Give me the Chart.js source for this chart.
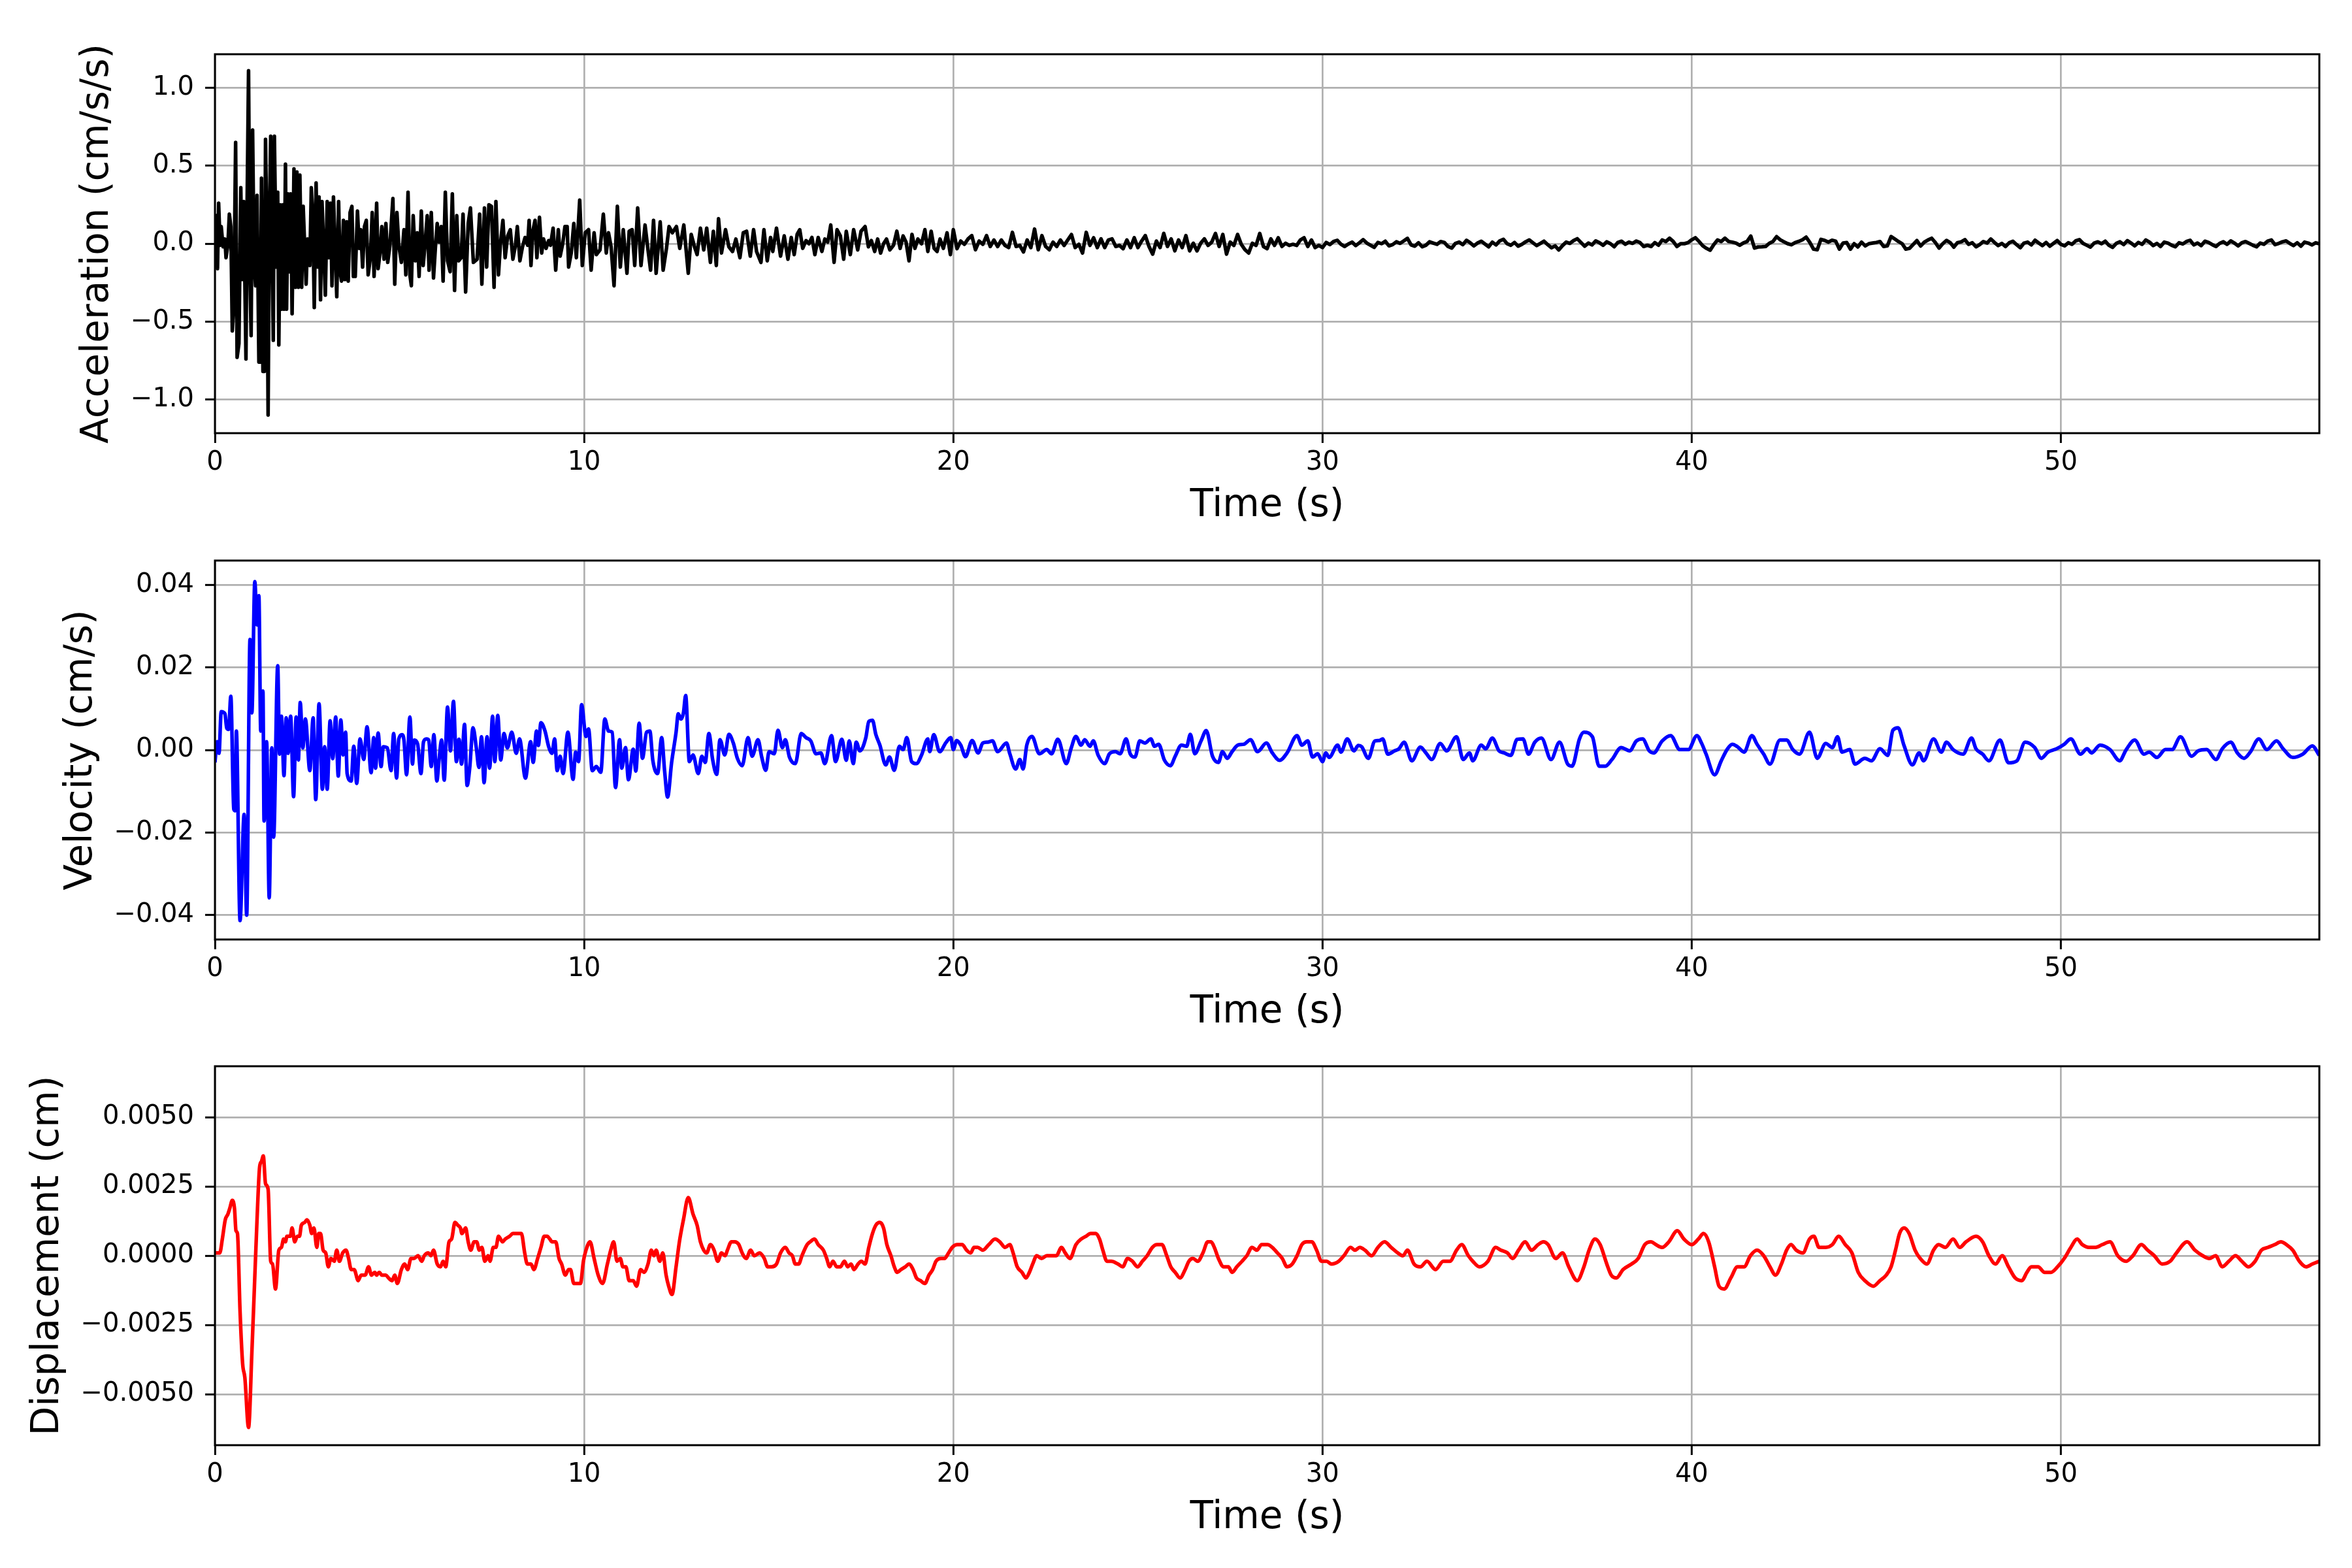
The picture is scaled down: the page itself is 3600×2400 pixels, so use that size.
<!DOCTYPE html>
<html>
<head>
<meta charset="utf-8">
<title>Acceleration, velocity and displacement</title>
<script src="https://cdn.jsdelivr.net/npm/chart.js@4.4.1/dist/chart.umd.min.js"></script>
<style>
  html, body { margin: 0; padding: 0; background: #fff; }
  body { width: 3600px; height: 2400px; position: relative; overflow: hidden; }
  canvas { position: absolute; left: 0; width: 3600px; height: 791px; }
</style>
</head>
<body>
<canvas id="accChart" width="3600" height="791" style="top:42px"></canvas>
<canvas id="velChart" width="3600" height="791" style="top:817px"></canvas>
<canvas id="dispChart" width="3600" height="791" style="top:1591px"></canvas>
<script>
// time axis
const tMax = 57;
const xTicks = [0, 10, 20, 30, 40, 50];
const xTickLabels = ['0', '10', '20', '30', '40', '50'];

// y ticks per panel
const accLimit = 1.216;
const accTicks = [-1, -0.5, 0, 0.5, 1];
const accTickLabels = ['\u22121.0', '\u22120.5', '0.0', '0.5', '1.0'];
const velLimit = 0.0459;
const velTicks = [-0.04, -0.02, 0, 0.02, 0.04];
const velTickLabels = ['\u22120.04', '\u22120.02', '0.00', '0.02', '0.04'];
const dispLimit = 0.00684;
const dispTicks = [-0.005, -0.0025, 0, 0.0025, 0.005];
const dispTickLabels = ['\u22120.0050', '\u22120.0025', '0.0000', '0.0025', '0.0050'];

// acceleration (cm/s/s), 0-20 s
const accTime = [
  0.00, 0.02, 0.04, 0.07, 0.10, 0.14, 0.17, 0.22, 0.27, 0.30,
  0.35, 0.39, 0.43, 0.47, 0.51, 0.56, 0.60, 0.65, 0.70, 0.74,
  0.78, 0.84, 0.87, 0.91, 0.95, 0.98, 1.02, 1.06, 1.10, 1.14,
  1.19, 1.23, 1.26, 1.30, 1.34, 1.37, 1.41, 1.44, 1.47, 1.51,
  1.54, 1.58, 1.61, 1.66, 1.70, 1.73, 1.77, 1.80, 1.84, 1.87,
  1.91, 1.94, 1.98, 2.02, 2.05, 2.09, 2.14, 2.18, 2.22, 2.26,
  2.30, 2.35, 2.39, 2.43, 2.47, 2.51, 2.57, 2.61, 2.65, 2.69,
  2.74, 2.78, 2.82, 2.86, 2.90, 2.94, 2.99, 3.04, 3.08, 3.13,
  3.17, 3.21, 3.26, 3.30, 3.35, 3.39, 3.43, 3.48, 3.52, 3.57,
  3.61, 3.66, 3.71, 3.75, 3.80, 3.86, 3.91, 3.95, 4.00, 4.05,
  4.10, 4.15, 4.21, 4.26, 4.31, 4.38, 4.42, 4.47, 4.52, 4.58,
  4.63, 4.68, 4.74, 4.82, 4.87, 4.93, 4.98, 5.05, 5.12, 5.17,
  5.23, 5.28, 5.32, 5.37, 5.43, 5.48, 5.53, 5.59, 5.64, 5.69,
  5.75, 5.80, 5.86, 5.92, 5.97, 6.02, 6.07, 6.13, 6.18, 6.24,
  6.30, 6.37, 6.43, 6.49, 6.55, 6.60, 6.67, 6.72, 6.79, 6.86,
  6.92, 7.00, 7.10, 7.17, 7.23, 7.30, 7.36, 7.42, 7.49, 7.56,
  7.61, 7.68, 7.73, 7.80, 7.86, 7.93, 8.00, 8.07, 8.14, 8.19,
  8.26, 8.33, 8.40, 8.47, 8.51, 8.56, 8.61, 8.67, 8.72, 8.79,
  8.85, 8.90, 8.97, 9.04, 9.09, 9.16, 9.23, 9.30, 9.35, 9.42,
  9.48, 9.54, 9.58, 9.65, 9.72, 9.79, 9.88, 9.95, 10.03, 10.12,
  10.19, 10.27, 10.33, 10.43, 10.52, 10.60, 10.66, 10.73, 10.81, 10.90,
  10.98, 11.06, 11.16, 11.22, 11.30, 11.37, 11.45, 11.54, 11.65, 11.73,
  11.80, 11.88, 11.95, 12.06, 12.14, 12.23, 12.30, 12.39, 12.50, 12.59,
  12.70, 12.82, 12.90, 12.99, 13.06, 13.15, 13.24, 13.32, 13.42, 13.50,
  13.58, 13.64, 13.72, 13.83, 13.92, 14.02, 14.11, 14.22, 14.31, 14.40,
  14.50, 14.59, 14.67, 14.79, 14.87, 14.96, 15.05, 15.11, 15.21, 15.32,
  15.42, 15.52, 15.61, 15.69, 15.77, 15.84, 15.92, 16.01, 16.09, 16.17,
  16.25, 16.34, 16.44, 16.52, 16.60, 16.68, 16.77, 16.85, 16.94, 17.03,
  17.10, 17.21, 17.30, 17.41, 17.50, 17.61, 17.70, 17.78, 17.87, 17.95,
  18.03, 18.11, 18.19, 18.28, 18.38, 18.47, 18.56, 18.64, 18.72, 18.80,
  18.88, 18.96, 19.04, 19.14, 19.23, 19.31, 19.40, 19.48, 19.56, 19.64,
  19.73, 19.83, 19.92, 20.00
];
const accValue = [
  0.00, 0.01, 0.18, -0.16, 0.26, -0.01, 0.11, -0.02, 0.03, -0.09,
  -0.01, 0.19, 0.11, -0.56, -0.40, 0.65, -0.73, -0.64, 0.36, -0.23,
  0.27, -0.74, 0.23, 1.11, -0.23, -0.59, 0.73, -0.11, -0.27, 0.31,
  -0.76, -0.76, 0.42, -0.82, -0.82, 0.67, -0.01, -1.10, 0.06, 0.69,
  0.11, -0.62, 0.69, -0.15, 0.33, -0.65, 0.25, -0.42, 0.25, -0.42,
  0.51, -0.42, 0.32, -0.18, 0.32, -0.45, 0.48, -0.28, 0.46, -0.28,
  0.44, -0.28, 0.24, -0.01, -0.26, 0.03, -0.14, 0.36, 0.18, -0.41,
  0.39, -0.15, 0.30, -0.36, 0.27, 0.01, -0.33, 0.27, -0.09, 0.26,
  -0.27, 0.30, -0.06, -0.34, 0.27, -0.18, -0.24, 0.15, -0.23, 0.14,
  -0.24, 0.20, 0.24, -0.21, -0.21, 0.21, -0.03, 0.09, -0.15, 0.11,
  0.15, -0.20, -0.09, 0.20, -0.21, 0.26, -0.16, -0.06, 0.11, -0.10,
  0.13, -0.12, -0.01, 0.29, -0.26, 0.20, -0.01, -0.12, 0.09, -0.20,
  0.33, -0.20, -0.27, 0.18, -0.11, 0.07, -0.21, 0.21, -0.14, -0.01,
  0.18, -0.17, 0.20, -0.22, -0.03, 0.13, 0.01, 0.11, -0.24, 0.33,
  -0.11, -0.18, 0.32, -0.30, 0.18, -0.11, -0.09, 0.19, -0.31, 0.13,
  0.23, -0.12, -0.10, 0.19, -0.26, 0.23, -0.15, 0.25, 0.24, -0.28,
  0.27, -0.20, -0.01, 0.15, -0.09, 0.05, 0.09, -0.10, -0.01, 0.11,
  -0.11, -0.02, 0.04, -0.01, 0.15, -0.14, 0.08, 0.15, -0.09, 0.17,
  -0.06, 0.03, -0.03, 0.02, -0.01, 0.10, -0.17, 0.09, -0.08, 0.00,
  0.11, 0.11, -0.15, -0.06, 0.13, -0.09, 0.28, -0.14, 0.07, 0.09,
  -0.17, 0.07, -0.07, -0.04, 0.19, -0.06, 0.07, -0.02, -0.27, 0.24,
  -0.15, 0.09, -0.19, 0.08, 0.09, -0.14, 0.23, -0.14, 0.12, -0.04,
  -0.17, 0.15, -0.19, 0.14, -0.17, -0.03, 0.11, 0.07, 0.11, -0.03,
  0.12, -0.19, 0.06, -0.02, -0.07, 0.10, -0.04, 0.10, -0.12, 0.08,
  -0.14, 0.16, -0.06, 0.09, -0.02, -0.05, 0.03, -0.09, 0.07, 0.08,
  -0.08, 0.09, -0.05, -0.12, 0.09, -0.11, 0.04, -0.05, 0.10, -0.08,
  0.05, -0.10, 0.04, -0.07, 0.06, 0.09, -0.03, 0.02, 0.00, 0.04,
  -0.07, 0.04, -0.05, 0.03, 0.01, 0.12, -0.12, 0.09, 0.05, -0.10,
  0.08, -0.07, 0.09, -0.04, 0.08, 0.11, -0.02, 0.02, -0.05, 0.03,
  -0.06, 0.00, 0.03, -0.04, -0.01, 0.08, -0.03, 0.05, 0.01, -0.11,
  0.06, -0.03, 0.03, 0.00, 0.09, -0.05, 0.08, -0.03, -0.05, 0.03,
  -0.03, 0.07, -0.07, 0.09
];
// acceleration after 20 s, one reading every 0.1 s
const accTailStart = 20.0;
const accTailStep = 0.1;
const accTail = [
  -0.032, 0.017, -0.004, 0.031, 0.052, -0.039, 0.017, -0.004, 0.052, -0.018,
  0.024, -0.018, 0.024, -0.011, -0.025, 0.073, -0.018, -0.011, -0.053, 0.024,
  -0.025, 0.094, -0.039, 0.052, -0.018, -0.039, 0.010, -0.018, 0.024, -0.011,
  0.024, 0.059, -0.025, -0.004, -0.060, 0.073, -0.011, 0.038, -0.025, 0.031,
  -0.025, 0.024, 0.031, -0.018, -0.011, -0.032, 0.024, -0.025, 0.038, -0.025,
  0.017, 0.052, -0.018, -0.067, 0.017, -0.025, 0.066, -0.018, 0.031, -0.046,
  0.024, -0.025, 0.052, -0.046, 0.003, -0.046, 0.003, 0.031, -0.011, 0.010,
  0.066, -0.018, 0.059, -0.067, 0.010, -0.011, 0.059, -0.004, -0.039, -0.060,
  0.003, -0.011, 0.066, -0.018, -0.032, 0.031, -0.011, 0.038, -0.018, 0.003,
  -0.011, -0.004, -0.011, 0.024, 0.038, -0.018, 0.024, -0.025, -0.011, -0.025,
  0.008, -0.006, 0.014, 0.022, -0.004, -0.018, -0.002, 0.010, -0.012, 0.006,
  0.026, 0.004, -0.010, -0.024, 0.008, 0.000, 0.016, -0.014, -0.006, 0.012,
  0.002, 0.018, 0.034, -0.008, -0.016, 0.006, -0.020, -0.010, 0.012, 0.004,
  -0.004, 0.014, 0.008, -0.018, -0.028, 0.002, 0.010, -0.006, 0.022, 0.006,
  -0.014, 0.004, 0.016, -0.002, -0.020, 0.010, -0.008, 0.018, 0.028, 0.000,
  -0.010, 0.008, -0.016, -0.004, 0.012, 0.024, 0.006, -0.012, 0.002, 0.016,
  -0.006, -0.026, -0.014, -0.040, -0.012, 0.010, 0.002, 0.020, 0.032, 0.008,
  -0.016, 0.004, -0.008, 0.018, 0.006, -0.010, 0.012, 0.000, -0.020, 0.008,
  0.016, -0.004, 0.010, 0.002, 0.017, 0.007, -0.018, -0.010, -0.018, 0.007,
  -0.010, 0.024, 0.014, 0.035, 0.014, -0.018, 0.000, 0.000, 0.007, 0.025,
  0.038, 0.014, -0.014, -0.030, -0.042, -0.005, 0.024, 0.014, 0.035, 0.014,
  0.010, 0.004, -0.010, 0.005, 0.014, 0.049, -0.028, -0.021, -0.020, -0.018,
  0.002, 0.014, 0.045, 0.025, 0.012, 0.000, -0.007, 0.007, 0.015, 0.025,
  0.042, 0.008, -0.035, -0.039, 0.028, 0.021, 0.010, 0.022, 0.016, -0.035,
  0.004, 0.007, -0.035, 0.000, -0.021, 0.010, -0.014, 0.000, 0.004, 0.008,
  0.014, -0.018, -0.014, 0.046, 0.030, 0.014, 0.000, -0.035, -0.030, -0.005,
  0.020, -0.015, 0.010, 0.024, 0.035, 0.007, -0.028, 0.000, 0.021, 0.007,
  -0.022, 0.007, 0.012, 0.026, -0.004, 0.006, -0.020, -0.006, 0.014, 0.004,
  0.030, 0.008, -0.012, 0.002, -0.018, 0.006, 0.016, -0.006, -0.026, 0.004,
  0.010, -0.008, 0.022, 0.004, -0.012, 0.008, -0.016, 0.002, 0.020, -0.004,
  -0.014, 0.006, -0.004, 0.018, 0.026, 0.002, -0.010, -0.022, 0.004, 0.012,
  0.000, 0.016, -0.010, -0.024, 0.002, 0.012, -0.006, 0.020, 0.004, -0.014,
  0.008, -0.004, 0.024, 0.010, -0.012, 0.002, -0.018, 0.010, 0.004, -0.010,
  -0.020, 0.006, -0.002, 0.014, 0.022, -0.008, 0.004, -0.012, 0.016, 0.008,
  -0.006, -0.018, 0.002, 0.012, -0.004, 0.018, 0.004, -0.014, 0.006, 0.014,
  0.002, -0.010, -0.020, 0.004, -0.004, 0.016, 0.024, -0.006, 0.002, 0.012,
  0.018, 0.002, -0.012, 0.006, -0.016, 0.010, 0.004, -0.008, 0.006, 0.000
];

// velocity (cm/s), turning points
const velTime = [
  0.00, 0.06, 0.11, 0.17, 0.27, 0.32, 0.37, 0.43, 0.51, 0.55,
  0.58, 0.68, 0.79, 0.86, 0.95, 1.00, 1.08, 1.14, 1.19, 1.24,
  1.30, 1.33, 1.40, 1.47, 1.54, 1.59, 1.70, 1.75, 1.80, 1.87,
  1.93, 1.98, 2.05, 2.13, 2.20, 2.26, 2.31, 2.38, 2.45, 2.57,
  2.66, 2.73, 2.82, 2.91, 2.97, 3.04, 3.12, 3.19, 3.27, 3.34,
  3.41, 3.47, 3.54, 3.58, 3.69, 3.76, 3.84, 3.93, 4.03, 4.12,
  4.23, 4.30, 4.35, 4.42, 4.50, 4.56, 4.67, 4.77, 4.84, 4.92,
  4.98, 5.07, 5.12, 5.19, 5.28, 5.35, 5.40, 5.49, 5.58, 5.65,
  5.73, 5.79, 5.86, 5.93, 6.01, 6.07, 6.14, 6.21, 6.30, 6.38,
  6.46, 6.54, 6.61, 6.68, 6.76, 6.83, 6.90, 6.99, 7.08, 7.15,
  7.22, 7.29, 7.37, 7.44, 7.52, 7.58, 7.66, 7.74, 7.83, 7.92,
  8.04, 8.16, 8.25, 8.41, 8.55, 8.62, 8.71, 8.76, 8.83, 8.94,
  9.04, 9.13, 9.20, 9.27, 9.35, 9.43, 9.56, 9.70, 9.77, 9.85,
  9.93, 10.05, 10.12, 10.22, 10.33, 10.45, 10.56, 10.66, 10.76, 10.85,
  10.96, 11.02, 11.12, 11.20, 11.33, 11.40, 11.49, 11.58, 11.69, 11.78,
  11.86, 11.99, 12.10, 12.18, 12.26, 12.37, 12.49, 12.55, 12.62, 12.69,
  12.75, 12.85, 12.95, 13.09, 13.19, 13.28, 13.38, 13.48, 13.59, 13.68,
  13.81, 13.92, 14.04, 14.15, 14.28, 14.44, 14.55, 14.71, 14.81, 14.92,
  15.01, 15.15, 15.25, 15.37, 15.45, 15.56, 15.72, 15.88, 16.01, 16.14,
  16.28, 16.41, 16.52, 16.70, 16.81, 16.98, 17.10, 17.18, 17.29, 17.37,
  17.47, 17.63, 17.71, 17.81, 17.90, 18.01, 18.17, 18.27, 18.40, 18.54,
  18.64, 18.74, 18.87, 19.00, 19.14, 19.31, 19.36, 19.47, 19.63, 19.80,
  19.93, 20.00, 20.09, 20.20, 20.33, 20.51, 20.67, 20.80, 20.93, 21.06,
  21.20, 21.44, 21.53, 21.69, 21.80, 21.89, 21.99, 22.13, 22.33, 22.53,
  22.66, 22.83, 23.06, 23.19, 23.32, 23.46, 23.56, 23.70, 23.79, 23.92,
  24.10, 24.23, 24.39, 24.52, 24.68, 24.79, 24.92, 25.05, 25.19, 25.35,
  25.45, 25.56, 25.72, 25.88, 26.01, 26.18, 26.32, 26.42, 26.54, 26.71,
  26.85, 27.02, 27.18, 27.29, 27.42, 27.55, 27.71, 27.87, 28.05, 28.24,
  28.48, 28.64, 28.84, 29.04, 29.31, 29.44, 29.60, 29.73, 29.87, 30.00,
  30.09, 30.18, 30.41, 30.50, 30.67, 30.85, 30.97, 31.06, 31.24, 31.42,
  31.54, 31.63, 31.77, 31.95, 32.07, 32.21, 32.42, 32.65, 32.80, 32.96,
  33.19, 33.36, 33.63, 33.81, 33.98, 34.07, 34.30, 34.42, 34.60, 34.78,
  34.92, 35.10, 35.27, 35.43, 35.58, 35.75, 35.93, 36.19, 36.42, 36.64,
  36.76, 36.96, 37.08, 37.31, 37.49, 37.66, 37.84, 38.09, 38.32, 38.50,
  38.67, 38.85, 38.97, 39.20, 39.43, 39.68, 39.91, 40.14, 40.27, 40.39,
  40.62, 40.80, 40.97, 41.10, 41.24, 41.42, 41.63, 41.77, 41.95, 42.12,
  42.39, 42.57, 42.74, 42.92, 43.19, 43.40, 43.63, 43.81, 43.95, 44.07,
  44.28, 44.42, 44.69, 44.87, 45.10, 45.31, 45.45, 45.59, 45.75, 45.98,
  46.16, 46.28, 46.55, 46.76, 46.90, 47.08, 47.35, 47.58, 47.70, 47.88,
  48.05, 48.35, 48.58, 48.81, 49.03, 49.29, 49.47, 49.65, 49.88, 50.09,
  50.27, 50.53, 50.71, 50.83, 51.06, 51.33, 51.59, 51.77, 52.00, 52.25,
  52.39, 52.60, 52.83, 53.01, 53.24, 53.54, 53.72, 53.95, 54.20, 54.37,
  54.60, 54.78, 54.96, 55.13, 55.36, 55.58, 55.84, 56.02, 56.28, 56.55,
  56.81, 57.00
];
const velValue = [
  -0.0030, 0.0020, -0.0008, 0.0093, 0.0088, 0.0053, 0.0050, 0.0130, -0.0143, -0.0147,
  0.0046, -0.0413, -0.0156, -0.0400, 0.0268, 0.0090, 0.0408, 0.0303, 0.0374, 0.0046,
  0.0143, -0.0172, 0.0020, -0.0358, 0.0005, -0.0211, 0.0204, -0.0010, 0.0082, -0.0062,
  0.0078, -0.0008, 0.0082, -0.0113, 0.0080, -0.0024, 0.0115, 0.0005, 0.0075, -0.0050,
  0.0078, -0.0120, 0.0112, -0.0095, 0.0008, -0.0095, 0.0071, -0.0021, 0.0080, -0.0063,
  0.0073, -0.0012, 0.0043, -0.0057, -0.0075, 0.0009, -0.0081, 0.0027, -0.0023, 0.0056,
  -0.0055, 0.0030, -0.0044, 0.0041, -0.0040, 0.0008, 0.0005, -0.0050, 0.0040, -0.0068,
  0.0027, 0.0037, 0.0024, -0.0060, 0.0080, -0.0034, 0.0024, 0.0014, -0.0057, 0.0020,
  0.0027, 0.0024, -0.0040, 0.0037, -0.0075, -0.0024, 0.0024, -0.0073, 0.0104, -0.0002,
  0.0118, -0.0028, 0.0026, -0.0034, 0.0062, -0.0086, -0.0044, 0.0054, 0.0005, -0.0042,
  0.0032, -0.0079, 0.0032, -0.0044, 0.0082, -0.0028, 0.0084, -0.0024, 0.0040, 0.0005,
  0.0043, -0.0008, 0.0027, -0.0068, 0.0020, -0.0030, 0.0046, 0.0011, 0.0066, 0.0046,
  0.0008, -0.0008, 0.0027, -0.0050, -0.0015, -0.0057, 0.0043, -0.0071, -0.0005, -0.0028,
  0.0110, 0.0033, 0.0051, -0.0050, -0.0040, -0.0054, 0.0075, 0.0046, 0.0043, -0.0091,
  0.0025, -0.0044, 0.0006, -0.0072, 0.0002, -0.0051, 0.0065, -0.0020, 0.0043, 0.0046,
  -0.0025, -0.0057, 0.0030, -0.0051, -0.0114, -0.0030, 0.0043, 0.0088, 0.0075, 0.0090,
  0.0132, -0.0028, -0.0012, -0.0057, -0.0015, -0.0030, 0.0040, -0.0023, -0.0059, 0.0025,
  -0.0012, 0.0038, 0.0017, -0.0020, -0.0038, 0.0030, -0.0015, 0.0025, -0.0017, -0.0049,
  -0.0004, -0.0009, 0.0048, 0.0006, 0.0025, -0.0017, -0.0033, 0.0040, 0.0030, 0.0022,
  -0.0009, -0.0007, -0.0033, 0.0035, -0.0028, 0.0026, -0.0025, 0.0022, -0.0033, 0.0019,
  -0.0002, 0.0030, 0.0069, 0.0072, 0.0038, 0.0012, -0.0036, -0.0017, -0.0049, 0.0009,
  0.0001, 0.0030, -0.0028, -0.0033, -0.0012, 0.0027, -0.0004, 0.0037, -0.0004, 0.0018,
  0.0030, 0.0001, 0.0023, 0.0012, -0.0016, 0.0023, -0.0007, 0.0017, 0.0019, 0.0022,
  -0.0004, 0.0017, -0.0009, -0.0046, -0.0023, -0.0046, 0.0012, 0.0033, -0.0009, 0.0001,
  -0.0009, 0.0026, -0.0033, 0.0004, 0.0033, 0.0012, 0.0025, 0.0009, 0.0022, -0.0012,
  -0.0033, -0.0009, -0.0004, -0.0009, 0.0027, -0.0009, -0.0017, 0.0022, 0.0017, 0.0027,
  0.0009, 0.0014, -0.0025, -0.0038, -0.0015, 0.0012, 0.0009, 0.0038, -0.0009, 0.0022,
  0.0047, -0.0015, -0.0030, -0.0004, -0.0020, -0.0004, 0.0012, 0.0014, 0.0025, -0.0004,
  0.0017, -0.0007, -0.0025, -0.0007, 0.0035, 0.0012, 0.0022, -0.0017, -0.0009, -0.0028,
  -0.0007, -0.0018, 0.0012, -0.0005, 0.0027, -0.0002, 0.0011, 0.0008, -0.0020, 0.0022,
  0.0023, 0.0027, -0.0010, -0.0002, 0.0003, 0.0019, -0.0026, 0.0007, -0.0007, -0.0023,
  0.0016, -0.0002, 0.0032, -0.0023, -0.0007, -0.0026, 0.0012, 0.0003, 0.0029, -0.0002,
  -0.0007, -0.0013, 0.0026, 0.0027, -0.0010, 0.0019, 0.0029, -0.0023, 0.0019, -0.0034,
  -0.0039, 0.0027, 0.0043, 0.0032, -0.0039, -0.0039, -0.0023, 0.0006, -0.0002, 0.0022,
  0.0027, -0.0002, -0.0007, 0.0022, 0.0035, 0.0001, 0.0001, 0.0035, 0.0016, -0.0010,
  -0.0060, -0.0026, 0.0003, 0.0014, 0.0008, -0.0005, 0.0035, 0.0014, -0.0010, -0.0034,
  0.0024, 0.0024, 0.0001, -0.0010, 0.0043, -0.0020, 0.0016, 0.0006, 0.0032, -0.0005,
  0.0001, -0.0034, -0.0020, -0.0026, 0.0003, -0.0013, 0.0048, 0.0054, 0.0011, -0.0036,
  -0.0007, -0.0026, 0.0027, -0.0005, 0.0019, 0.0001, -0.0010, 0.0029, 0.0003, -0.0010,
  -0.0026, 0.0024, -0.0031, -0.0026, 0.0019, 0.0006, -0.0020, -0.0005, 0.0003, 0.0014,
  0.0027, -0.0010, 0.0003, -0.0007, 0.0012, 0.0001, -0.0026, 0.0001, 0.0024, -0.0010,
  -0.0005, -0.0018, 0.0001, 0.0001, 0.0032, -0.0015, -0.0002, 0.0001, -0.0023, 0.0003,
  0.0019, -0.0007, -0.0020, -0.0005, 0.0027, 0.0001, 0.0022, 0.0003, -0.0018, -0.0010,
  0.0010, -0.0013
];

// displacement (cm), turning points
const dispTime = [
  0.00, 0.13, 0.20, 0.28, 0.35, 0.40, 0.47, 0.53, 0.57, 0.61,
  0.68, 0.75, 0.81, 0.91, 1.00, 1.07, 1.14, 1.21, 1.26, 1.31,
  1.37, 1.44, 1.51, 1.56, 1.64, 1.73, 1.80, 1.86, 1.91, 1.95,
  2.04, 2.09, 2.16, 2.23, 2.29, 2.34, 2.43, 2.49, 2.57, 2.62,
  2.68, 2.76, 2.81, 2.86, 2.93, 3.00, 3.07, 3.14, 3.23, 3.30,
  3.37, 3.46, 3.55, 3.62, 3.69, 3.77, 3.88, 3.96, 4.07, 4.16,
  4.24, 4.33, 4.38, 4.45, 4.52, 4.63, 4.70, 4.80, 4.87, 4.94,
  5.05, 5.14, 5.22, 5.31, 5.39, 5.50, 5.60, 5.67, 5.78, 5.85,
  5.92, 6.02, 6.11, 6.18, 6.25, 6.34, 6.41, 6.50, 6.58, 6.65,
  6.69, 6.79, 6.86, 6.93, 7.02, 7.09, 7.16, 7.23, 7.31, 7.40,
  7.45, 7.54, 7.61, 7.68, 7.79, 7.86, 7.98, 8.07, 8.15, 8.22,
  8.30, 8.39, 8.46, 8.56, 8.64, 8.74, 8.83, 8.92, 9.00, 9.07,
  9.13, 9.23, 9.32, 9.39, 9.49, 9.58, 9.63, 9.72, 9.79, 9.90,
  9.98, 10.05, 10.16, 10.27, 10.38, 10.50, 10.63, 10.72, 10.80, 10.89,
  10.98, 11.05, 11.13, 11.22, 11.33, 11.42, 11.53, 11.62, 11.73, 11.82,
  11.89, 11.95, 12.05, 12.13, 12.22, 12.29, 12.38, 12.49, 12.58, 12.69,
  12.82, 12.95, 13.06, 13.15, 13.24, 13.32, 13.42, 13.52, 13.62, 13.72,
  13.82, 13.88, 13.99, 14.08, 14.19, 14.28, 14.39, 14.51, 14.61, 14.75,
  14.88, 14.97, 15.08, 15.21, 15.32, 15.45, 15.55, 15.64, 15.72, 15.81,
  15.90, 16.04, 16.12, 16.24, 16.34, 16.48, 16.57, 16.65, 16.74, 16.84,
  16.94, 17.05, 17.14, 17.23, 17.31, 17.42, 17.51, 17.61, 17.71, 17.81,
  17.90, 18.01, 18.11, 18.20, 18.31, 18.40, 18.48, 18.58, 18.70, 18.80,
  18.91, 19.00, 19.11, 19.23, 19.34, 19.44, 19.53, 19.67, 19.76, 19.87,
  19.97, 20.11, 20.24, 20.36, 20.47, 20.56, 20.66, 20.80, 20.96, 21.13,
  21.26, 21.40, 21.53, 21.62, 21.73, 21.86, 21.97, 22.06, 22.15, 22.26,
  22.39, 22.53, 22.66, 22.79, 22.93, 23.03, 23.16, 23.32, 23.46, 23.59,
  23.72, 23.86, 23.96, 24.05, 24.16, 24.28, 24.46, 24.59, 24.72, 24.85,
  24.99, 25.12, 25.25, 25.39, 25.52, 25.65, 25.78, 25.89, 26.01, 26.14,
  26.28, 26.38, 26.49, 26.62, 26.76, 26.89, 26.98, 27.07, 27.18, 27.32,
  27.45, 27.55, 27.68, 27.82, 27.95, 28.09, 28.22, 28.35, 28.51, 28.64,
  28.78, 28.91, 29.04, 29.18, 29.31, 29.44, 29.57, 29.71, 29.84, 29.97,
  30.11, 30.24, 30.44, 30.58, 30.76, 30.88, 31.01, 31.15, 31.33, 31.50,
  31.68, 31.86, 32.04, 32.18, 32.30, 32.48, 32.65, 32.83, 33.06, 33.27,
  33.45, 33.63, 33.77, 33.95, 34.07, 34.25, 34.48, 34.69, 34.83, 35.01,
  35.15, 35.31, 35.49, 35.66, 35.84, 35.98, 36.11, 36.32, 36.50, 36.67,
  36.90, 37.08, 37.22, 37.38, 37.52, 37.70, 37.82, 37.96, 38.14, 38.37,
  38.55, 38.73, 38.90, 39.03, 39.20, 39.38, 39.61, 39.79, 40.00, 40.18,
  40.32, 40.46, 40.62, 40.74, 40.88, 41.06, 41.24, 41.42, 41.59, 41.77,
  41.95, 42.12, 42.27, 42.43, 42.57, 42.69, 42.83, 43.01, 43.19, 43.31,
  43.45, 43.63, 43.81, 43.98, 44.16, 44.34, 44.51, 44.69, 44.92, 45.10,
  45.27, 45.40, 45.52, 45.63, 45.75, 45.89, 46.05, 46.19, 46.37, 46.55,
  46.69, 46.87, 47.08, 47.26, 47.43, 47.70, 47.88, 48.05, 48.23, 48.41,
  48.58, 48.76, 48.94, 49.08, 49.20, 49.38, 49.56, 49.73, 49.91, 50.09,
  50.27, 50.44, 50.58, 50.76, 50.94, 51.12, 51.33, 51.54, 51.77, 51.95,
  52.18, 52.35, 52.53, 52.74, 52.96, 53.13, 53.42, 53.63, 53.84, 54.02,
  54.19, 54.37, 54.55, 54.73, 54.90, 55.08, 55.26, 55.43, 55.61, 55.79,
  55.96, 56.11, 56.28, 56.46, 56.64, 56.81, 57.00
];
const dispValue = [
  0.0001, 0.0001, 0.0006, 0.0013, 0.0015, 0.0017, 0.0020, 0.0017, 0.0009, 0.0008,
  -0.0020, -0.0039, -0.0044, -0.0062, -0.0035, -0.0011, 0.0013, 0.0032, 0.0034, 0.0036,
  0.0026, 0.0024, -0.0002, -0.0003, -0.0012, 0.0002, 0.0003, 0.0006, 0.0005, 0.0007,
  0.0007, 0.0010, 0.0005, 0.0007, 0.0007, 0.0011, 0.0012, 0.0013, 0.0011, 0.0008,
  0.0010, 0.0003, 0.0008, 0.0008, 0.0002, 0.0001, -0.0004, -0.0001, -0.0002, 0.0002,
  -0.0002, 0.0001, 0.0002, -0.0001, -0.0005, -0.0005, -0.0009, -0.0007, -0.0007, -0.0004,
  -0.0007, -0.0006, -0.0007, -0.0006, -0.0007, -0.0007, -0.0008, -0.0009, -0.0007, -0.0010,
  -0.0005, -0.0003, -0.0005, -0.0001, -0.0001, 0.0000, -0.0002, 0.0000, 0.0001, 0.0000,
  0.0002, -0.0003, -0.0004, -0.0002, -0.0004, 0.0005, 0.0006, 0.0012, 0.0011, 0.0010,
  0.0008, 0.0010, 0.0005, 0.0002, 0.0005, 0.0005, 0.0002, 0.0003, -0.0002, 0.0000,
  -0.0002, 0.0003, 0.0003, 0.0007, 0.0005, 0.0006, 0.0007, 0.0008, 0.0008, 0.0008,
  0.0008, 0.0001, -0.0003, -0.0003, -0.0005, -0.0001, 0.0003, 0.0007, 0.0007, 0.0006,
  0.0005, 0.0005, -0.0001, -0.0003, -0.0007, -0.0005, -0.0005, -0.0010, -0.0010, -0.0010,
  -0.0002, 0.0002, 0.0005, -0.0001, -0.0007, -0.0010, -0.0003, 0.0002, 0.0005, -0.0002,
  -0.0001, -0.0004, -0.0004, -0.0009, -0.0009, -0.0011, -0.0005, -0.0006, -0.0003, 0.0002,
  0.0000, 0.0002, -0.0002, 0.0001, -0.0007, -0.0011, -0.0014, -0.0004, 0.0005, 0.0013,
  0.0021, 0.0015, 0.0011, 0.0005, 0.0002, 0.0001, 0.0004, 0.0002, -0.0002, 0.0001,
  0.0000, 0.0002, 0.0005, 0.0005, 0.0004, 0.0001, -0.0001, 0.0002, 0.0000, 0.0001,
  -0.0001, -0.0004, -0.0004, -0.0003, 0.0001, 0.0003, 0.0001, 0.0000, -0.0003, -0.0003,
  0.0000, 0.0004, 0.0005, 0.0006, 0.0004, 0.0002, -0.0001, -0.0004, -0.0002, -0.0004,
  -0.0004, -0.0002, -0.0004, -0.0003, -0.0005, -0.0003, -0.0002, -0.0003, 0.0003, 0.0008,
  0.0011, 0.0012, 0.0010, 0.0004, 0.0000, -0.0004, -0.0006, -0.0005, -0.0004, -0.0003,
  -0.0005, -0.0008, -0.0009, -0.0010, -0.0007, -0.0005, -0.0002, -0.0001, -0.0001, 0.0001,
  0.0003, 0.0004, 0.0004, 0.0002, 0.0001, 0.0003, 0.0003, 0.0002, 0.0004, 0.0006,
  0.0005, 0.0003, 0.0004, 0.0001, -0.0004, -0.0006, -0.0008, -0.0006, -0.0003, 0.0000,
  -0.0001, 0.0000, 0.0000, 0.0000, 0.0003, 0.0001, -0.0001, 0.0004, 0.0006, 0.0007,
  0.0008, 0.0008, 0.0006, 0.0002, -0.0002, -0.0002, -0.0003, -0.0004, -0.0001, -0.0002,
  -0.0004, -0.0002, 0.0000, 0.0003, 0.0004, 0.0004, 0.0000, -0.0004, -0.0006, -0.0008,
  -0.0005, -0.0002, -0.0001, -0.0002, 0.0001, 0.0005, 0.0005, 0.0003, -0.0001, -0.0004,
  -0.0004, -0.0006, -0.0004, -0.0002, 0.0000, 0.0003, 0.0002, 0.0004, 0.0004, 0.0003,
  0.0001, -0.0001, -0.0004, -0.0003, 0.0000, 0.0004, 0.0005, 0.0005, 0.0002, -0.0002,
  -0.0002, -0.0003, -0.0002, 0.0000, 0.0003, 0.0002, 0.0003, 0.0002, 0.0000, 0.0003,
  0.0005, 0.0003, 0.0001, 0.0000, 0.0002, -0.0003, -0.0004, -0.0002, -0.0005, -0.0002,
  -0.0002, 0.0002, 0.0004, 0.0000, -0.0002, -0.0004, -0.0002, 0.0003, 0.0002, 0.0001,
  -0.0001, 0.0002, 0.0005, 0.0002, 0.0004, 0.0005, 0.0004, -0.0001, 0.0001, -0.0004,
  -0.0009, -0.0004, 0.0002, 0.0006, 0.0004, -0.0003, -0.0007, -0.0008, -0.0005, -0.0003,
  -0.0001, 0.0004, 0.0005, 0.0004, 0.0003, 0.0005, 0.0009, 0.0006, 0.0004, 0.0006,
  0.0008, 0.0005, -0.0004, -0.0011, -0.0012, -0.0008, -0.0004, -0.0004, 0.0000, 0.0002,
  0.0000, -0.0004, -0.0007, -0.0003, 0.0002, 0.0004, 0.0002, 0.0001, 0.0006, 0.0007,
  0.0003, 0.0003, 0.0004, 0.0007, 0.0004, 0.0001, -0.0006, -0.0009, -0.0011, -0.0009,
  -0.0007, -0.0004, 0.0002, 0.0008, 0.0010, 0.0008, 0.0002, -0.0001, -0.0003, 0.0002,
  0.0004, 0.0003, 0.0006, 0.0003, 0.0005, 0.0007, 0.0005, 0.0000, -0.0003, 0.0000,
  -0.0004, -0.0008, -0.0009, -0.0006, -0.0004, -0.0004, -0.0006, -0.0006, -0.0004, -0.0001,
  0.0003, 0.0006, 0.0004, 0.0003, 0.0003, 0.0004, 0.0005, 0.0000, -0.0002, 0.0000,
  0.0004, 0.0002, 0.0000, -0.0003, -0.0002, 0.0001, 0.0005, 0.0002, 0.0000, -0.0001,
  0.0000, -0.0004, -0.0002, 0.0000, -0.0002, -0.0004, -0.0002, 0.0002, 0.0003, 0.0004,
  0.0005, 0.0004, 0.0002, -0.0002, -0.0004, -0.0003, -0.0002
];

Chart.defaults.font.family = '"DejaVu Sans", "Liberation Sans", sans-serif';
Chart.defaults.color = '#000';

// black box round each plot area
const frame = {
  id: 'frame',
  afterDatasetsDraw(chart) {
    const a = chart.chartArea;
    const ctx = chart.ctx;
    ctx.save();
    ctx.strokeStyle = '#000';
    ctx.lineWidth = 3;
    ctx.strokeRect(a.left, a.top, a.right - a.left, a.bottom - a.top);
    ctx.restore();
  }
};

function toPoints(times, values) {
  const n = Math.min(times.length, values.length);
  const pts = [];
  for (let i = 0; i < n; i++) pts.push({ x: times[i], y: values[i] });
  return pts;
}

const gridStyle = { color: '#b0b0b0', lineWidth: 2.7, tickColor: '#000', tickLength: 15, tickWidth: 3 };

function makePanel(id, points, color, limit, yTicks, yLabels, yTitle, titleGap, smooth) {
  return new Chart(document.getElementById(id), {
    type: 'line',
    data: {
      datasets: [{
        data: points,
        borderColor: color,
        borderWidth: 5.5,
        borderJoinStyle: 'round',
        pointRadius: 0,
        fill: false,
        tension: 0,
        cubicInterpolationMode: smooth ? 'monotone' : 'default'
      }]
    },
    options: {
      responsive: false,
      animation: false,
      devicePixelRatio: 1,
      parsing: false,
      events: [],
      layout: { padding: { top: 40, right: 50, bottom: 0, left: 0 } },
      plugins: { legend: { display: false }, tooltip: { enabled: false } },
      scales: {
        x: {
          type: 'linear',
          min: 0,
          max: tMax,
          afterFit: s => { s.height = 170; },
          afterBuildTicks: s => { s.ticks = xTicks.map(v => ({ value: v })); },
          grid: gridStyle,
          border: { display: false },
          ticks: { autoSkip: false, maxRotation: 0, padding: 7, font: { size: 40 },
                   callback: (v, i) => xTickLabels[i] },
          title: { display: true, text: 'Time (s)', font: { size: 58 }, padding: { top: 0, bottom: 23 } }
        },
        y: {
          type: 'linear',
          min: -limit,
          max: limit,
          afterFit: s => { s.width = 329; },
          afterBuildTicks: s => { s.ticks = yTicks.map(v => ({ value: v })); },
          grid: gridStyle,
          border: { display: false },
          ticks: { autoSkip: false, padding: 17, font: { size: 40 },
                   callback: (v, i) => yLabels[i] },
          title: { display: true, text: yTitle, font: { size: 58 }, padding: { top: titleGap, bottom: 0 } }
        }
      }
    },
    plugins: [frame]
  });
}

const accTimeAll = accTime.slice();
const accValueAll = accValue.slice();
accTail.forEach((v, i) => {
  accTimeAll.push(+(accTailStart + (i + 1) * accTailStep).toFixed(2));
  accValueAll.push(v);
});

makePanel('accChart', toPoints(accTimeAll, accValueAll), '#000000', accLimit,
  accTicks, accTickLabels, 'Acceleration (cm/s/s)', 115, false);
makePanel('velChart', toPoints(velTime, velValue), '#0000ff', velLimit,
  velTicks, velTickLabels, 'Velocity (cm/s)', 90, true);
makePanel('dispChart', toPoints(dispTime, dispValue), '#ff0000', dispLimit,
  dispTicks, dispTickLabels, 'Displacement (cm)', 39, true);
</script>
</body>
</html>
